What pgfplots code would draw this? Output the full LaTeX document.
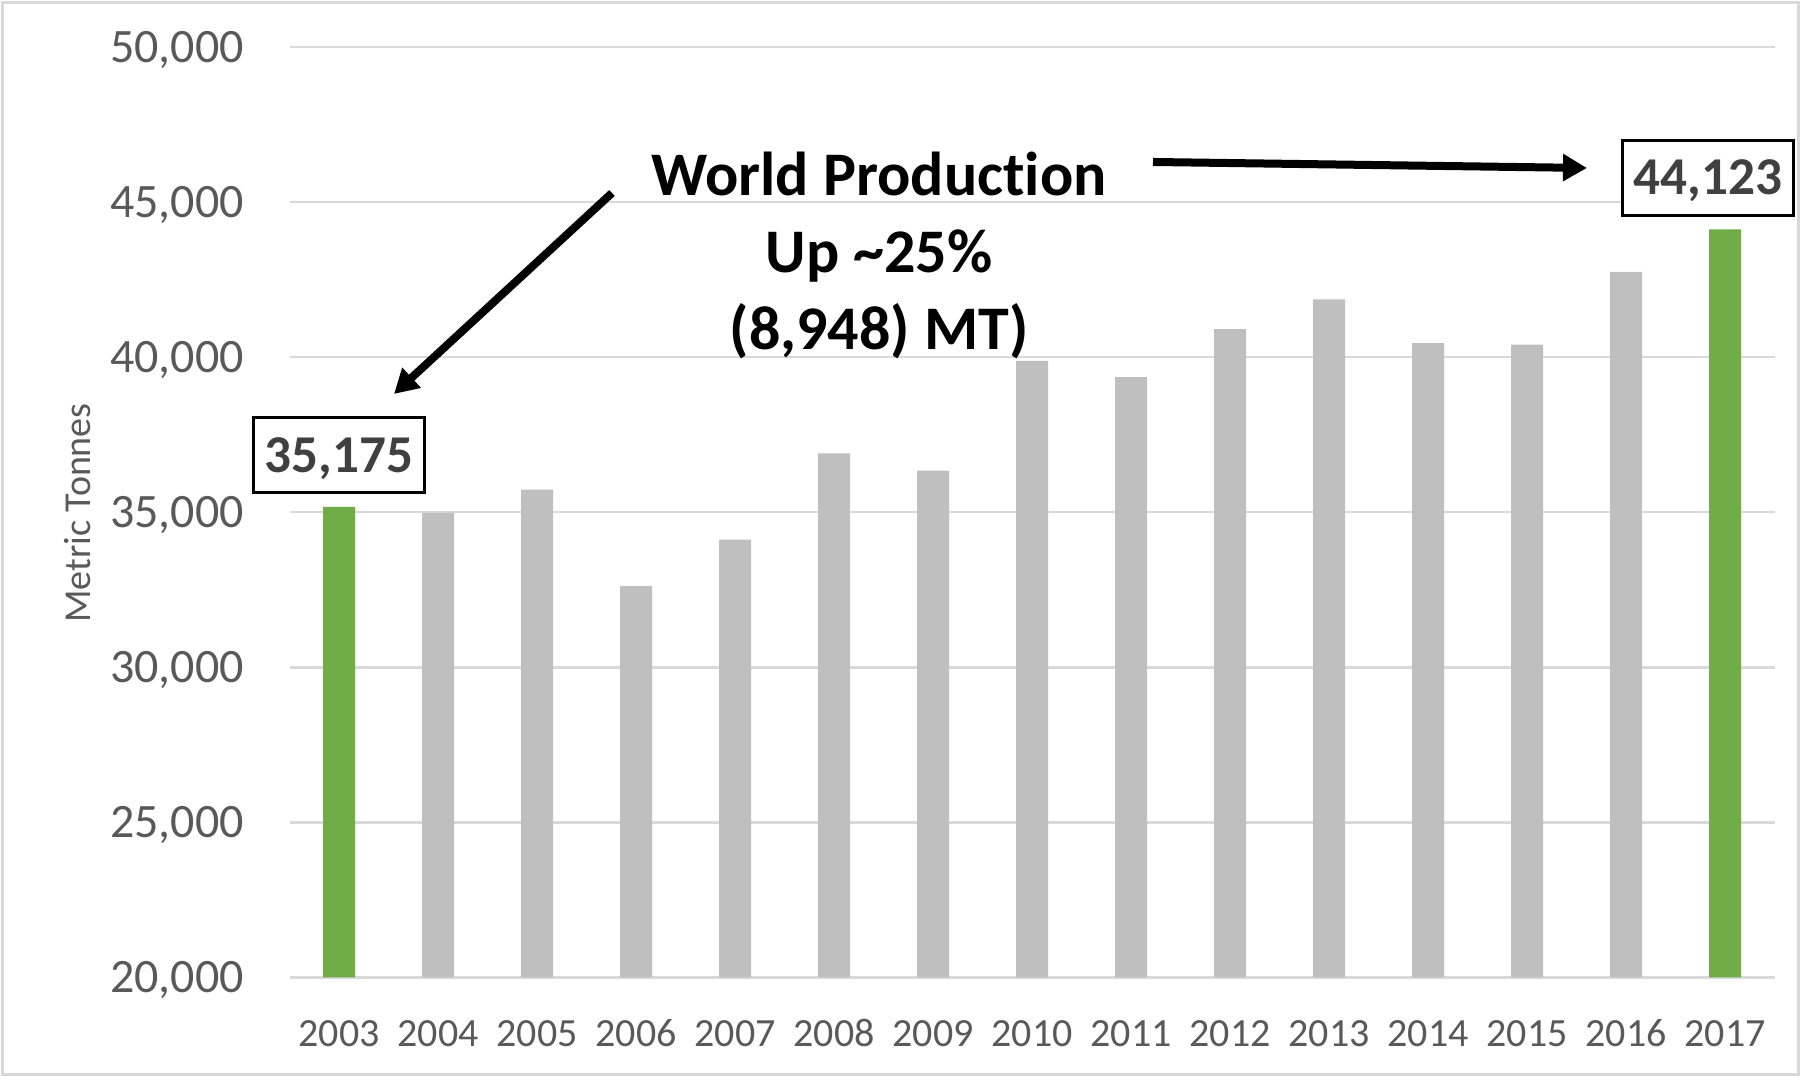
\documentclass[border=0pt]{standalone}
\usepackage{fontspec}
\setmainfont{Carlito}[Ligatures=NoCommon]
\usepackage{pgfplots}
\pgfplotsset{compat=1.18}
\usetikzlibrary{arrows.meta}

\definecolor{gridgray}{HTML}{D9D9D9}
\definecolor{barGray}{HTML}{BFBFBF}
\definecolor{barGreen}{HTML}{70AD47}
\definecolor{tickgray}{HTML}{595959}
\definecolor{labelgray}{HTML}{404040}

\begin{document}
\begin{tikzpicture}
% frame of the chart area (units of 0.25pt)
\begin{scope}[x=0.25pt,y=0.25pt]
  \useasboundingbox (0,0) rectangle (1801,1077);
  \draw[gridgray, line width=0.75pt] (2.5,2.5) rectangle (1798.5,1074.5);
\end{scope}

\begin{axis}[
  at={(72.375pt,24.875pt)}, anchor=south west,
  scale only axis, width=371.275pt, height=232.625pt,
  clip=false,
  xmin=-0.5, xmax=14.5,
  ymin=20000, ymax=50000,
  xtick={0,...,14},
  xticklabels={2003,2004,2005,2006,2007,2008,2009,2010,2011,2012,2013,2014,2015,2016,2017},
  ytick={20000,25000,30000,35000,40000,45000,50000},
  scaled y ticks=false,
  ymajorgrids,
  grid style={gridgray, line width=0.6pt},
  axis line style={draw=none},
  tick style={draw=none},
  ybar, bar width=8pt,
  yticklabel style={font=\fontsize{12}{14}\selectfont, text=tickgray,
    inner sep=0pt, anchor=base east, xshift=-11.2pt, yshift=-3.8pt,
    /pgf/number format/.cd, fixed, 1000 sep={,}, assume math mode=true},
  xticklabel style={font=\fontsize{10}{12}\selectfont, text=tickgray,
    inner sep=0pt, anchor=base, yshift=-12.9pt},
]
  % regular years
  \addplot[fill=barGray, draw=none, bar shift=0pt] coordinates {
    (1,34980) (2,35730) (3,32620) (4,34120) (5,36900) (6,36340)
    (7,39880) (8,39360) (9,40900) (10,41860) (11,40450) (12,40400) (13,42750)
  };
  % first and last year
  \addplot[fill=barGreen, draw=none, bar shift=0pt] coordinates {
    (0,35175) (14,44123)
  };

  \node[draw=black, line width=0.75pt, fill=white, anchor=south, yshift=3.1pt,
        minimum width=42.9pt, minimum height=18.75pt, inner sep=0pt,
        text height=8.4pt, text depth=0pt, text=labelgray,
        font=\fontsize{13.3}{15}\selectfont\bfseries]
    at (axis cs:0,35175) {35,175};
  \node[draw=black, line width=0.75pt, fill=white, anchor=south, yshift=3.1pt, xshift=-4.25pt,
        minimum width=42.9pt, minimum height=18.75pt, inner sep=0pt,
        text height=8.4pt, text depth=0pt, text=labelgray,
        font=\fontsize{13.3}{15}\selectfont\bfseries]
    at (axis cs:14,44123) {44,123};
\end{axis}

\begin{scope}[x=0.25pt,y=0.25pt]
  % axis title
  \node[rotate=90, text=tickgray, font=\fontsize{9.5}{11}\selectfont, inner sep=0pt]
    at (78,564) {Metric Tonnes};
  % callout text
  \begin{scope}[font=\fontsize{15.5}{18}\selectfont\bfseries, inner sep=0pt]
    \node[anchor=base] at (879,881) {World Production};
    \node[anchor=base] at (879,804) {Up \textasciitilde25\%};
    \node[anchor=base] at (879,727) {(8,948) MT)};
  \end{scope}
  % callout arrows
  \draw[line width=2pt, -{Triangle[length=6pt,width=6.5pt]}] (612,884) -- (394,683);
  \draw[line width=2pt, -{Triangle[length=6pt,width=6.5pt]}] (1153,915) -- (1587,909);
\end{scope}
\end{tikzpicture}
\end{document}
